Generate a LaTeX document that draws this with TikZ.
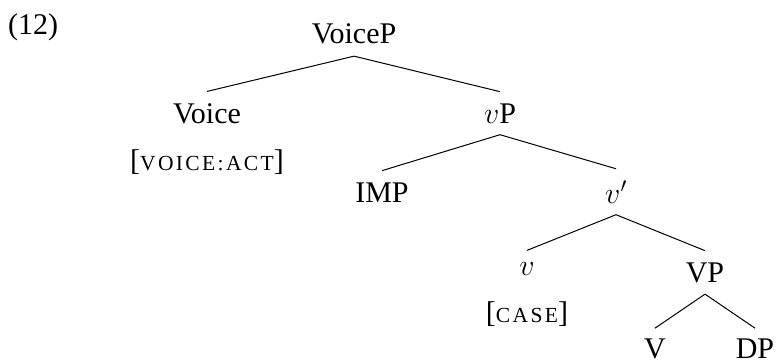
\RequirePackage{fix-cm}
\documentclass[tikz,border=0pt]{standalone}
\usepackage{fontspec}
\setmainfont{Liberation Serif}
\newfontfamily\scfont[LetterSpace=11]{Liberation Serif}
\newcommand{\fsc}[1]{{\fontsize{21.5}{24}\scfont #1}}
\begin{document}
\begin{tikzpicture}[x=1pt,y=-1pt,
  every node/.style={font=\fontsize{30}{36}\selectfont, inner xsep=2pt, inner ysep=11.5pt, anchor=base},
  branch/.style={line width=1pt}]
\useasboundingbox (0,0) rectangle (776,361);
\node[anchor=base west, inner sep=0pt] (ex) at (8,35) {(12)};
\node (VoiceP) at (354,44) {VoiceP};
\node (Voice) at (207,123) {Voice};
\node (voiceact) at (207,170) {[\fsc{VOICE:ACT}]};
\node (vP) at (500,123) {$v$P};
\node (IMP) at (382,202) {IMP};
\node (vbar) at (616,203) {$v'$};
\node (v) at (527,275) {$v$};
\node (case) at (527,322) {[\fsc{CASE}]};
\node (VP) at (705,282) {VP};
\node[inner ysep=10pt] (V) at (655,358) {V};
\node[inner ysep=10pt] (DP) at (755,358) {DP};
\draw[branch] (VoiceP.south) -- (Voice.north);
\draw[branch] (VoiceP.south) -- (vP.north);
\draw[branch] (vP.south) -- (IMP.north);
\draw[branch] (vP.south) -- (vbar.north);
\draw[branch] (vbar.south) -- (v.north);
\draw[branch] (vbar.south) -- (VP.north);
\draw[branch] (VP.south) -- (V.north);
\draw[branch] (VP.south) -- (DP.north);
\end{tikzpicture}
\end{document}
